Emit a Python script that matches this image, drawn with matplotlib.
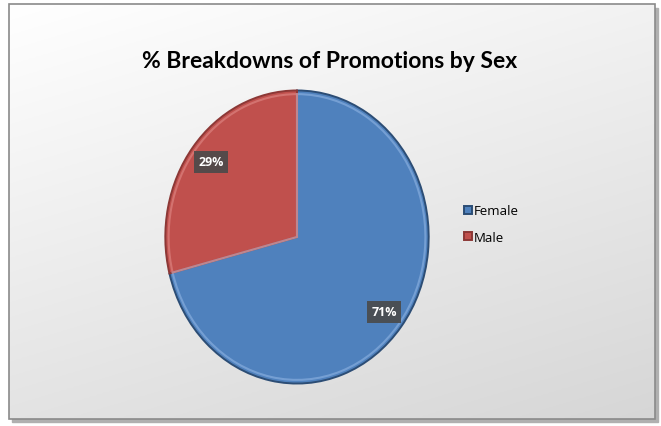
import numpy as np
import matplotlib.pyplot as plt
from matplotlib.patches import Rectangle

labels = ["Female", "Male"]
shares = [71, 29]
colors = ["#4F81BD", "#C0504D"]
edges = ["#2c4d75", "#8c3836"]
highlights = ["#8fb4e3", "#e08a87"]

W, H = 661, 427
fig = plt.figure(figsize=(W / 100, H / 100), dpi=100)

# background panel with soft gradient
bg = fig.add_axes([0, 0, 1, 1])
bg.set_xlim(0, W)
bg.set_ylim(H, 0)
bg.axis("off")
bg.add_patch(Rectangle((0, 0), W, H, color="white", zorder=0))
yy, xx = np.mgrid[0:1:200j, 0:1:200j]
g = 1.0 - 0.16 * (0.75 * yy + 0.35 * xx) / 1.1
img = np.dstack([g, g, g])
bg.add_patch(Rectangle((12, 9), 646, 414, color="#b0b0b0", zorder=1))
bg.imshow(img, extent=(9, 655, 420, 5), zorder=2, aspect="auto")
bg.add_patch(Rectangle((9, 5), 646, 415, fill=False, ec="#8a8a8a", lw=1.2, zorder=3))

fig.text(330 / W, 1 - 62 / H, "% Breakdowns of Promotions by Sex",
         ha="center", va="center", fontsize=16.5, fontweight="bold",
         family="Lato", color="black")

# pie is drawn slightly squashed horizontally
rx, ry = 133, 148
cx, cy = 297, 238
ax = fig.add_axes([(cx - rx) / W, 1 - (cy + ry) / H, 2 * rx / W, 2 * ry / H])
wedges, _ = ax.pie(shares, colors=colors, startangle=90, counterclock=False,
                   wedgeprops=dict(linewidth=1.4))
for w, ec in zip(wedges, edges):
    w.set_edgecolor(ec)
# light inner rim for a bevelled look
inner, _ = ax.pie(shares, colors=colors, startangle=90, counterclock=False,
                  radius=0.975, wedgeprops=dict(linewidth=1.5))
for w, hc in zip(inner, highlights):
    w.set_fill(False)
    w.set_edgecolor(hc)
    w.set_alpha(0.6)
ax.set_xlim(-1.01, 1.01)
ax.set_ylim(-1.01, 1.01)
ax.set_aspect("auto")

# percentage labels
label_pos = [(384, 313), (211, 163)]
for (px, py), v in zip(label_pos, shares):
    fig.text(px / W, 1 - py / H, f"{v}%", ha="center", va="center",
             fontsize=9, fontweight="bold", family="Open Sans", color="white",
             bbox=dict(boxstyle="square,pad=0.35", fc="#4a4a4a", ec="none", alpha=0.9))

leg = fig.legend(wedges, labels, loc="center left",
                 bbox_to_anchor=(452 / W, 1 - 225 / H), frameon=False,
                 handlelength=0.6, handleheight=0.6, handletextpad=0.15,
                 labelspacing=1.0, prop=dict(family="Open Sans", size=9.5))

fig.savefig("out.png", dpi=100)
